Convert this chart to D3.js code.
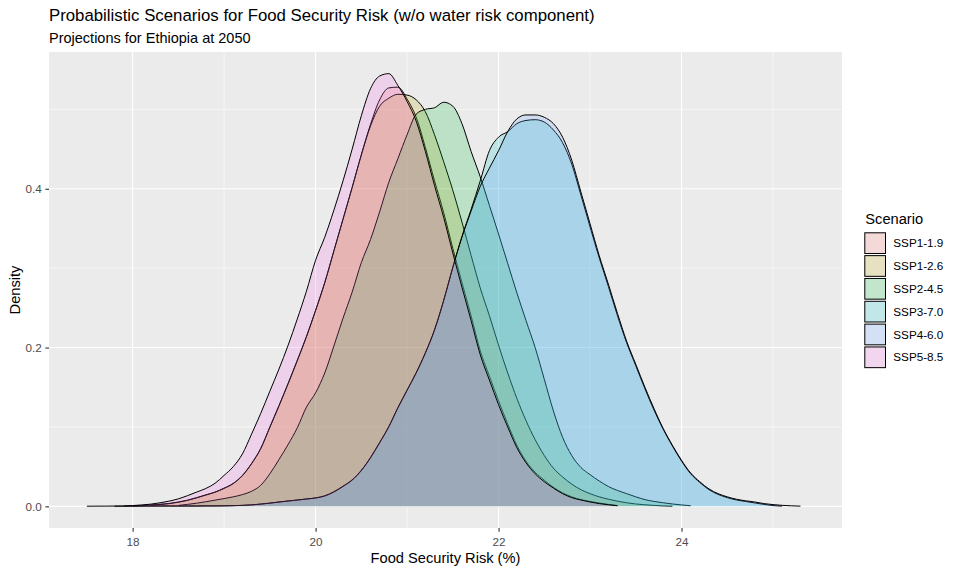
<!DOCTYPE html>
<html>
<head>
<meta charset="utf-8">
<script src="https://cdn.jsdelivr.net/npm/d3@7"></script>
<style>
  body { margin: 0; background: #fff; }
  svg { display: block; font-family: "Liberation Sans", Arial, sans-serif; }
</style>
</head>
<body>
<svg id="chart" width="961" height="573"></svg>
<script>
// ---- data ----
const scenarios = ["SSP1-1.9", "SSP1-2.6", "SSP2-4.5", "SSP3-7.0", "SSP4-6.0", "SSP5-8.5"];
const scenarioColors = ["#F8766D", "#B79F00", "#00BA38", "#00BFC4", "#619CFF", "#F564E3"];

// evaluation points of the densities (Food Security Risk, %)
const riskGrid = [
  17.5, 17.6, 17.7, 17.8, 17.9, 18.0, 18.1, 18.2, 18.3, 18.4,
  18.5, 18.6, 18.7, 18.8, 18.9, 19.0, 19.1, 19.2, 19.3, 19.4,
  19.5, 19.6, 19.7, 19.8, 19.9, 20.0, 20.1, 20.2, 20.3, 20.4,
  20.5, 20.6, 20.7, 20.8, 20.9, 21.0, 21.1, 21.2, 21.3, 21.4,
  21.5, 21.6, 21.7, 21.8, 21.9, 22.0, 22.1, 22.2, 22.3, 22.4,
  22.5, 22.6, 22.7, 22.8, 22.9, 23.0, 23.1, 23.2, 23.3, 23.4,
  23.5, 23.6, 23.7, 23.8, 23.9, 24.0, 24.1, 24.2, 24.3, 24.4,
  24.5, 24.6, 24.7, 24.8, 24.9, 25.0, 25.1, 25.2, 25.3, 25.4
];

// density of each scenario on riskGrid (null = outside the sample range)
const ssp119 = [
  null, null, null, null, null, 0.0004, 0.001, 0.0018, 0.0027, 0.0037,
  0.0055, 0.0078, 0.011, 0.0145, 0.018, 0.023, 0.029, 0.039, 0.054, 0.073,
  0.100, 0.127, 0.155, 0.184, 0.214, 0.247, 0.282, 0.322, 0.362, 0.402,
  0.443, 0.481, 0.512, 0.527, 0.528, 0.513, 0.490, 0.452, 0.410, 0.370,
  0.325, 0.282, 0.240, 0.196, 0.164, 0.133, 0.104, 0.077, 0.057, 0.043,
  0.033, 0.024, 0.017, 0.012, 0.0085, 0.0062, 0.0042, 0.0025, 0.001, null,
  null, null, null, null, null, null, null, null, null, null,
  null, null, null, null, null, null, null, null, null, null
];
const ssp126 = [
  null, null, null, null, null, null, null, 0.0012, 0.0022, 0.0034,
  0.0052, 0.0075, 0.0107, 0.0142, 0.0177, 0.0226, 0.0287, 0.0386, 0.0537, 0.0726,
  0.0995, 0.1265, 0.1545, 0.1835, 0.2135, 0.2465, 0.2815, 0.3215, 0.3615, 0.4015,
  0.4425, 0.479, 0.504, 0.514, 0.519, 0.518, 0.512, 0.497, 0.468, 0.434,
  0.398, 0.358, 0.316, 0.275, 0.240, 0.203, 0.168, 0.136, 0.108, 0.084,
  0.064, 0.048, 0.037, 0.028, 0.021, 0.016, 0.012, 0.009, 0.0065, 0.0045,
  0.003, 0.002, 0.0012, 0.0006, 0.0002, null, null, null, null, null,
  null, null, null, null, null, null, null, null, null, null
];
const ssp245 = [
  null, null, null, null, null, null, null, null, null, null,
  0.0012, 0.0025, 0.004, 0.0058, 0.0078, 0.0098, 0.012, 0.0148, 0.019, 0.0265,
  0.041, 0.059, 0.078, 0.099, 0.125, 0.143, 0.168, 0.202, 0.237, 0.270,
  0.307, 0.336, 0.371, 0.408, 0.438, 0.468, 0.494, 0.500, 0.502, 0.509,
  0.504, 0.482, 0.447, 0.415, 0.379, 0.343, 0.306, 0.269, 0.234, 0.200,
  0.160, 0.120, 0.087, 0.064, 0.049, 0.040, 0.032, 0.025, 0.020, 0.016,
  0.012, 0.0085, 0.0062, 0.0045, 0.003, 0.0018, 0.0008, null, null, null,
  null, null, null, null, null, null, null, null, null, null
];
const ssp370 = [
  0.0002, 0.0003, 0.0003, 0.0004, 0.0004, 0.0004, 0.0005, 0.0005, 0.0005, 0.0005,
  0.0005, 0.0005, 0.0005, 0.0006, 0.0006, 0.0007, 0.0009, 0.0012, 0.0018, 0.0028,
  0.004, 0.0054, 0.0067, 0.0079, 0.0092, 0.0105, 0.013, 0.018, 0.025, 0.033,
  0.045, 0.061, 0.080, 0.100, 0.124, 0.146, 0.168, 0.193, 0.222, 0.259,
  0.301, 0.340, 0.374, 0.410, 0.448, 0.465, 0.472, 0.482, 0.486, 0.487,
  0.484, 0.474, 0.458, 0.431, 0.392, 0.352, 0.313, 0.277, 0.240, 0.206,
  0.177, 0.148, 0.121, 0.097, 0.076, 0.057, 0.041, 0.030, 0.021, 0.015,
  0.011, 0.008, 0.0062, 0.0043, 0.0025, 0.001, 0.0003, null, null, null
];
const ssp460 = [
  null, null, null, 0.0002, 0.0003, 0.0004, 0.0004, 0.0005, 0.0005, 0.0005,
  0.0005, 0.0005, 0.0005, 0.0006, 0.0006, 0.0007, 0.0009, 0.0013, 0.0019, 0.0029,
  0.0041, 0.0055, 0.0068, 0.008, 0.0093, 0.0107, 0.0133, 0.0185, 0.0255, 0.0335,
  0.0455, 0.0615, 0.0805, 0.1005, 0.1245, 0.1465, 0.1685, 0.1935, 0.2225, 0.2595,
  0.301, 0.339, 0.372, 0.403, 0.426, 0.448, 0.472, 0.488, 0.493, 0.493,
  0.490, 0.482, 0.465, 0.436, 0.396, 0.356, 0.316, 0.280, 0.243, 0.208,
  0.179, 0.150, 0.123, 0.098, 0.077, 0.058, 0.042, 0.031, 0.022, 0.016,
  0.012, 0.009, 0.007, 0.0055, 0.0035, 0.0022, 0.0013, 0.0007, 0.0003, null
];
const ssp585 = [
  null, null, null, null, 0.0004, 0.001, 0.0018, 0.0028, 0.0045, 0.0066,
  0.0095, 0.0135, 0.018, 0.0225, 0.029, 0.039, 0.050, 0.066, 0.091, 0.117,
  0.145, 0.173, 0.203, 0.236, 0.271, 0.310, 0.339, 0.373, 0.410, 0.450,
  0.492, 0.526, 0.542, 0.545, 0.530, 0.510, 0.485, 0.447, 0.404, 0.364,
  0.319, 0.276, 0.234, 0.191, 0.159, 0.128, 0.100, 0.074, 0.055, 0.041,
  0.031, 0.023, 0.016, 0.011, 0.008, 0.0055, 0.0035, 0.002, 0.0008, null,
  null, null, null, null, null, null, null, null, null, null,
  null, null, null, null, null, null, null, null, null, null
];
const densities = [ssp119, ssp126, ssp245, ssp370, ssp460, ssp585];

// min / max of the pooled risk samples
const sampleRange = [17.48, 25.36];

const xTicks = [18, 20, 22, 24];
const xMinorTicks = [17, 19, 21, 23, 25];
const yTicks = [0, 0.2, 0.4];
const yMinorTicks = [0.1, 0.3, 0.5];

// ---- layout ----
const panel = {left: 49, top: 52, right: 842, bottom: 528};
const svg = d3.select("#chart");

const span = sampleRange[1] - sampleRange[0];
const x = d3.scaleLinear()
    .domain([sampleRange[0] - span * 0.05, sampleRange[1] + span * 0.05])
    .range([panel.left, panel.right]);

const maxDensity = d3.max(densities, s => d3.max(s));
const y = d3.scaleLinear()
    .domain([-maxDensity * 0.05, maxDensity * 1.05])
    .range([panel.bottom, panel.top]);

// panel background
svg.append("rect")
    .attr("x", panel.left).attr("y", panel.top)
    .attr("width", panel.right - panel.left)
    .attr("height", panel.bottom - panel.top)
    .attr("fill", "#EBEBEB");

// grid lines
const grid = svg.append("g").attr("stroke", "#fff");
grid.selectAll("line.xminor")
    .data(xMinorTicks.filter(v => v > x.domain()[0] && v < x.domain()[1]))
    .join("line")
    .attr("x1", d => x(d)).attr("x2", d => x(d))
    .attr("y1", panel.top).attr("y2", panel.bottom)
    .attr("stroke-width", 0.55);
grid.selectAll("line.yminor")
    .data(yMinorTicks.filter(v => v < y.domain()[1]))
    .join("line")
    .attr("x1", panel.left).attr("x2", panel.right)
    .attr("y1", d => y(d)).attr("y2", d => y(d))
    .attr("stroke-width", 0.55);
grid.selectAll("line.xmajor")
    .data(xTicks)
    .join("line")
    .attr("x1", d => x(d)).attr("x2", d => x(d))
    .attr("y1", panel.top).attr("y2", panel.bottom)
    .attr("stroke-width", 1.1);
grid.selectAll("line.ymajor")
    .data(yTicks)
    .join("line")
    .attr("x1", panel.left).attr("x2", panel.right)
    .attr("y1", d => y(d)).attr("y2", d => y(d))
    .attr("stroke-width", 1.1);

// density areas, drawn group by group (fill then outline), like geom_density
const area = d3.area()
    .defined(d => d[1] != null)
    .x(d => x(d[0]))
    .y0(y(0))
    .y1(d => y(d[1]))
    .curve(d3.curveMonotoneX);
const line = d3.line()
    .defined(d => d[1] != null)
    .x(d => x(d[0]))
    .y(d => y(d[1]))
    .curve(d3.curveMonotoneX);

const layers = svg.append("g");
densities.forEach(function (series, i) {
    let pts = riskGrid.map((r, j) => [r, series[j]]).filter(p => p[1] != null);
    layers.append("path")
        .attr("d", area(pts))
        .attr("fill", scenarioColors[i])
        .attr("fill-opacity", 0.2);
    layers.append("path")
        .attr("d", line(pts))
        .attr("fill", "none")
        .attr("stroke", "#000")
        .attr("stroke-width", 1);
});

// axes
const xAxis = svg.append("g")
    .attr("transform", `translate(0,${panel.bottom})`)
    .call(d3.axisBottom(x).tickValues(xTicks).tickSize(3.65).tickPadding(6).tickFormat(d3.format("d")));
const yAxis = svg.append("g")
    .attr("transform", `translate(${panel.left},0)`)
    .call(d3.axisLeft(y).tickValues(yTicks).tickSize(3.65).tickPadding(3.6).tickFormat(d3.format(".1f")));
[xAxis, yAxis].forEach(function (ax) {
    ax.select(".domain").remove();
    ax.selectAll(".tick line").attr("stroke", "#333333").attr("stroke-width", 1.1);
    ax.selectAll(".tick text")
        .attr("fill", "#4D4D4D")
        .style("font-size", "11.7px")
        .style("font-family", "'Liberation Sans', Arial, sans-serif");
});

// titles
svg.append("text")
    .attr("x", panel.left).attr("y", 20.7)
    .style("font-size", "16.8px")
    .attr("fill", "#000")
    .text("Probabilistic Scenarios for Food Security Risk (w/o water risk component)");
svg.append("text")
    .attr("x", panel.left).attr("y", 43.3)
    .style("font-size", "14.5px")
    .attr("fill", "#000")
    .text("Projections for Ethiopia at 2050");
svg.append("text")
    .attr("x", (panel.left + panel.right) / 2).attr("y", 563)
    .attr("text-anchor", "middle")
    .style("font-size", "14.67px")
    .text("Food Security Risk (%)");
svg.append("text")
    .attr("transform", `translate(19.7,${(panel.top + panel.bottom) / 2}) rotate(-90)`)
    .attr("text-anchor", "middle")
    .style("font-size", "14.67px")
    .text("Density");

// legend
const legend = svg.append("g").attr("transform", "translate(864.3,0)");
legend.append("text")
    .attr("x", 1).attr("y", 224)
    .style("font-size", "14.67px")
    .text("Scenario");
const keyPitch = 22.83, keySize = 21.7, keyTop = 232.3;
const keys = legend.selectAll("g.key")
    .data(scenarios)
    .join("g")
    .attr("class", "key")
    .attr("transform", (d, i) => `translate(0,${keyTop + i * keyPitch})`);
keys.append("rect")
    .attr("width", keySize).attr("height", keySize)
    .attr("fill", "#F2F2F2");
keys.append("rect")
    .attr("x", 0.5).attr("y", 0.5)
    .attr("width", keySize - 1).attr("height", keySize - 1)
    .attr("fill", (d, i) => scenarioColors[i])
    .attr("fill-opacity", 0.2)
    .attr("stroke", "#000")
    .attr("stroke-width", 1);
keys.append("text")
    .attr("x", 29).attr("y", keySize / 2)
    .attr("dy", "0.35em")
    .style("font-size", "11.7px")
    .text(d => d);
</script>
</body>
</html>
